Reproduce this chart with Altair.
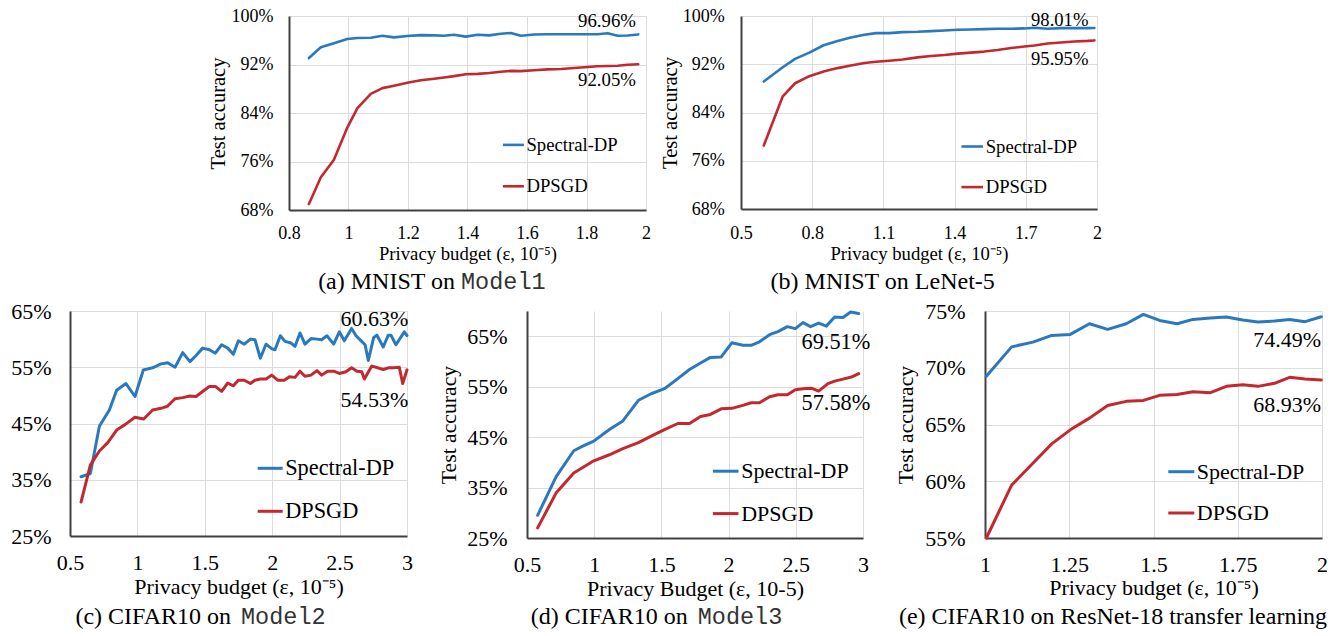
import altair as alt
import pandas as pd

SERIES = ["Spectral-DP", "DPSGD"]
BLUE = "#2A79BF"
RED = "#C3282F"
SERIF = "Liberation Serif"
MONO = "Liberation Mono"

# ---------------- (a) MNIST on Model1 ----------------
a_x = [0.867, 0.907, 0.951, 0.996, 1.030, 1.075, 1.114, 1.153, 1.198, 1.243, 1.288, 1.321,
       1.355, 1.394, 1.434, 1.473, 1.512, 1.546, 1.579, 1.624, 1.669, 1.714, 1.759, 1.804,
       1.837, 1.871, 1.905, 1.938, 1.974]
a_spectral = [93.06, 94.85, 95.50, 96.20, 96.37, 96.40, 96.75, 96.47, 96.70, 96.85, 96.80, 96.75,
              96.90, 96.60, 96.90, 96.80, 97.07, 97.20, 96.75, 96.96, 97.00, 97.00, 97.00, 97.00,
              97.00, 97.15, 96.75, 96.78, 96.96]
a_dpsgd = [68.98, 73.40, 76.30, 81.60, 84.80, 87.15, 88.10, 88.50, 89.00, 89.40, 89.65, 89.86,
           90.08, 90.40, 90.45, 90.60, 90.80, 90.95, 90.90, 91.05, 91.20, 91.27, 91.43, 91.60,
           91.70, 91.76, 91.80, 91.97, 92.05]

# ---------------- (b) MNIST on LeNet-5 ----------------
b_x = [0.596, 0.676, 0.728, 0.788, 0.848, 0.907, 0.963, 1.020, 1.069, 1.125, 1.181, 1.244,
       1.301, 1.357, 1.413, 1.469, 1.525, 1.581, 1.638, 1.694, 1.736, 1.792, 1.848, 1.904,
       1.961, 1.989]
b_spectral = [89.13, 91.50, 92.90, 93.93, 95.15, 95.87, 96.43, 96.88, 97.16, 97.16, 97.32, 97.38,
              97.49, 97.60, 97.71, 97.77, 97.83, 97.88, 97.88, 97.94, 98.05, 97.88, 97.99, 97.99,
              97.99, 98.01]
b_dpsgd = [78.54, 86.68, 88.85, 90.02, 90.80, 91.36, 91.80, 92.20, 92.42, 92.59, 92.80, 93.14,
           93.37, 93.53, 93.76, 93.92, 94.10, 94.37, 94.70, 94.93, 95.10, 95.43, 95.60, 95.76,
           95.87, 95.95]

# ---------------- (c) CIFAR10 on Model2 ----------------
c_x_spectral = [0.582, 0.651, 0.718, 0.792, 0.846, 0.915, 0.982, 1.044, 1.113, 1.175, 1.225, 1.279,
                1.336, 1.390, 1.435, 1.484, 1.534, 1.578, 1.625, 1.670, 1.712, 1.749, 1.793, 1.838,
                1.872, 1.912, 1.954, 1.996, 2.021, 2.060, 2.095, 2.140, 2.169, 2.206, 2.243, 2.288,
                2.332, 2.367, 2.406, 2.456, 2.498, 2.535, 2.589, 2.622, 2.664, 2.689, 2.713, 2.753,
                2.777, 2.824, 2.861, 2.881, 2.918, 2.980, 3.000]
c_spectral = [35.54, 36.10, 44.50, 47.40, 50.90, 52.10, 49.80, 54.50, 54.90, 55.60, 55.80, 55.00,
              57.60, 56.00, 57.10, 58.40, 58.10, 57.50, 59.00, 58.40, 57.30, 59.70, 59.10, 60.00,
              59.90, 56.60, 59.10, 58.30, 58.10, 60.60, 59.60, 59.30, 58.70, 61.10, 59.10, 60.10,
              60.00, 59.90, 60.60, 59.10, 61.30, 59.70, 61.90, 60.60, 59.60, 59.00, 56.20, 60.30,
              60.70, 58.60, 60.70, 60.70, 59.00, 61.30, 60.63]
c_x_dpsgd = [0.582, 0.651, 0.718, 0.780, 0.849, 0.908, 0.982, 1.047, 1.113, 1.175, 1.225, 1.279,
             1.336, 1.390, 1.435, 1.484, 1.534, 1.578, 1.625, 1.670, 1.712, 1.749, 1.793, 1.838,
             1.872, 1.912, 1.954, 1.996, 2.041, 2.090, 2.128, 2.169, 2.206, 2.243, 2.288, 2.332,
             2.367, 2.411, 2.456, 2.498, 2.547, 2.589, 2.629, 2.664, 2.684, 2.738, 2.783, 2.824,
             2.861, 2.901, 2.943, 2.968, 3.000]
c_dpsgd = [31.03, 37.60, 40.10, 41.60, 43.90, 44.80, 46.10, 45.80, 47.40, 47.70, 48.10, 49.40,
           49.60, 49.90, 49.80, 50.70, 51.60, 51.60, 50.70, 52.20, 51.70, 52.70, 52.70, 52.10,
           52.70, 52.90, 52.90, 53.60, 52.70, 52.70, 53.30, 53.20, 54.30, 53.40, 53.60, 54.40,
           53.60, 54.30, 54.30, 53.90, 54.20, 54.90, 54.30, 54.20, 52.90, 55.20, 54.90, 54.60,
           54.90, 54.90, 55.00, 52.10, 54.53]

# ---------------- (d) CIFAR10 on Model3 ----------------
d_x_spectral = [0.579, 0.716, 0.848, 0.915, 0.997, 1.113, 1.213, 1.329, 1.424, 1.523, 1.622, 1.709,
                1.791, 1.865, 1.945, 2.024, 2.106, 2.168, 2.230, 2.305, 2.367, 2.437, 2.496, 2.553,
                2.610, 2.670, 2.727, 2.789, 2.851, 2.908, 2.968]
d_spectral = [29.5, 37.1, 42.3, 43.2, 44.2, 46.5, 48.2, 52.3, 53.6, 54.6, 56.6, 58.4,
              59.7, 60.8, 60.9, 63.7, 63.2, 63.2, 63.9, 65.3, 65.9, 66.9, 66.5, 67.7,
              66.9, 67.6, 67.0, 68.8, 68.7, 69.8, 69.51]
d_x_dpsgd = [0.579, 0.716, 0.848, 0.997, 1.113, 1.213, 1.329, 1.424, 1.523, 1.622, 1.709, 1.791,
             1.865, 1.945, 2.024, 2.106, 2.168, 2.230, 2.305, 2.367, 2.437, 2.496, 2.553, 2.615,
             2.670, 2.739, 2.789, 2.851, 2.913, 2.968]
d_dpsgd = [27.0, 33.9, 37.9, 40.3, 41.5, 42.7, 43.9, 45.2, 46.5, 47.7, 47.7, 49.1,
           49.5, 50.6, 50.7, 51.3, 51.8, 51.8, 53.0, 53.4, 53.4, 54.4, 54.6, 54.7,
           54.1, 55.6, 56.1, 56.5, 56.9, 57.58]

# ---------------- (e) CIFAR10 on ResNet-18 transfer learning ----------------
e_x = [1.004, 1.079, 1.142, 1.198, 1.253, 1.310, 1.364, 1.419, 1.470, 1.518, 1.570, 1.617,
       1.669, 1.716, 1.765, 1.810, 1.859, 1.904, 1.950, 1.998]
e_spectral = [69.25, 71.84, 72.26, 72.85, 72.94, 73.88, 73.38, 73.88, 74.70, 74.17, 73.88, 74.26,
              74.38, 74.47, 74.20, 74.03, 74.12, 74.26, 74.06, 74.49]
e_dpsgd = [55.00, 59.66, 61.58, 63.29, 64.53, 65.56, 66.68, 67.04, 67.12, 67.57, 67.65, 67.89,
           67.80, 68.36, 68.51, 68.36, 68.63, 69.16, 69.01, 68.93]

# axis ticks
a_xticks = [0.8, 1.0, 1.2, 1.4, 1.6, 1.8, 2.0]
b_xticks = [0.5, 0.8, 1.1, 1.4, 1.7, 2.0]
cd_xticks = [0.5, 1.0, 1.5, 2.0, 2.5, 3.0]
e_xticks = [1.0, 1.25, 1.5, 1.75, 2.0]
mnist_yticks = [68, 76, 84, 92, 100]
c_yticks = [25, 35, 45, 55, 65]
d_yticks = [25, 35, 45, 55, 65]
e_yticks = [55, 60, 65, 70, 75]

X_TITLE = "Privacy budget (ε, 10⁻⁵)"
X_TITLE_D = "Privacy Budget (ε, 10-5)"
Y_TITLE = "Test accuracy"


def long_df(xs_s, ys_s, xs_d, ys_d):
    return pd.concat([
        pd.DataFrame({"eps": xs_s, "acc": ys_s, "series": SERIES[0]}),
        pd.DataFrame({"eps": xs_d, "acc": ys_d, "series": SERIES[1]}),
    ], ignore_index=True)


def end_label(xs, ys, dx, dy, fs):
    d = pd.DataFrame({"eps": [xs[-1]], "acc": [ys[-1]], "label": [f"{ys[-1]:.2f}%"]})
    return alt.Chart(d).mark_text(
        align="right", baseline="middle", dx=dx, dy=dy, font=SERIF, fontSize=fs, color="black"
    ).encode(x="eps:Q", y="acc:Q", text="label:N")


def caption(text, font, size, align, x, y, color="black"):
    return alt.Chart(pd.DataFrame({"t": [text]})).mark_text(
        font=font, fontSize=size, align=align, baseline="alphabetic", color=color
    ).encode(x=alt.value(x), y=alt.value(y), text="t:N")


def panel(p):
    df = long_df(p["xs"], p["ys"], p["xd"], p["yd"])
    x = alt.X("eps:Q", scale=alt.Scale(domain=p["xdom"], nice=False, zero=False),
              axis=alt.Axis(values=p["xticks"], format=".2~f", title=p["xtitle"],
                            labelFont=SERIF, labelFontSize=p["fs"], labelColor="black",
                            labelPadding=p["xlp"], labelOverlap=False, labelFlush=False,
                            ticks=False, tickSize=0,
                            titleFont=SERIF, titleFontSize=p["xtfs"], titleFontWeight="normal",
                            titleColor="black", titlePadding=p["xtp"],
                            domainColor="#404040", domainWidth=2,
                            gridColor="#dcdcdc", gridWidth=1))
    y = alt.Y("acc:Q", scale=alt.Scale(domain=p["ydom"], nice=False, zero=False),
              axis=alt.Axis(values=p["yticks"], labelExpr="datum.value + '%'", title=p["ytitle"],
                            labelFont=SERIF, labelFontSize=p["fs"], labelColor="black",
                            labelPadding=p["ylp"], labelOverlap=False, ticks=False, tickSize=0,
                            titleFont=SERIF, titleFontSize=p["ytfs"], titleFontWeight="normal",
                            titleColor="black", titlePadding=p["ytp"],
                            domainColor="#404040", domainWidth=2,
                            gridColor="#dcdcdc", gridWidth=1))
    color = alt.Color(
        "series:N", sort=SERIES, scale=alt.Scale(domain=SERIES, range=[BLUE, RED]),
        legend=alt.Legend(orient="none", legendX=p["lx"], legendY=p["ly"], title=None,
                          symbolType="stroke", symbolSize=p["sym"] ** 2,
                          symbolStrokeWidth=p["lw"], labelFont=SERIF, labelFontSize=p["lfs"],
                          labelColor="black", labelOffset=1, rowPadding=p["rp"], padding=0,
                          labelLimit=400))
    lines = alt.Chart(df).mark_line(strokeWidth=p["lw"], strokeJoin="round", strokeCap="round").encode(
        x=x, y=y, color=color)
    layers = [lines,
              end_label(p["xs"], p["ys"], p["dx"], p["dys"], p["efs"]),
              end_label(p["xd"], p["yd"], p["dx"], p["dyd"], p["efs"])]
    for cap in p["caps"]:
        layers.append(caption(*cap))
    return alt.layer(*layers).properties(width=p["w"], height=p["h"])


def spacer(w):
    return alt.Chart(pd.DataFrame({"v": [0]})).mark_point(opacity=0).encode(
        x=alt.value(0), y=alt.value(0)).properties(width=w, height=1)


TOP_CAP_Y = 272.5
BOT_CAP_Y = 313.0

pa = panel(dict(xs=a_x, ys=a_spectral, xd=a_x, yd=a_dpsgd, w=357, h=194,
                xdom=[0.8, 2.0], xticks=a_xticks, ydom=[68, 100], yticks=mnist_yticks,
                xtitle=X_TITLE, ytitle=Y_TITLE, fs=18, xtfs=18.7, ytfs=20.5, lfs=18.7, efs=18.8,
                ylp=16, ytp=3, xlp=14, xtp=2, lw=2.6,
                lx=212.4, ly=116.9, sym=21, rp=19.4, dx=-2.3, dys=-13.1, dyd=16.1,
                caps=[("(a) MNIST on", SERIF, 24, "right", 166, TOP_CAP_Y),
                      ("Model1", MONO, 23.5, "left", 172, TOP_CAP_Y, "#333333")]))
pb = panel(dict(xs=b_x, ys=b_spectral, xd=b_x, yd=b_dpsgd, w=356, h=193,
                xdom=[0.5, 2.0], xticks=b_xticks, ydom=[68, 100], yticks=mnist_yticks,
                xtitle=X_TITLE, ytitle=Y_TITLE, fs=18, xtfs=18.7, ytfs=20.5, lfs=18.7, efs=18.6,
                ylp=16.7, ytp=2, xlp=15, xtp=2, lw=2.6,
                lx=218.7, ly=118, sym=21.5, rp=17.6, dx=-6, dys=-7.7, dyd=18.3,
                caps=[("(b) MNIST on LeNet-5", SERIF, 24, "center", 141.7, TOP_CAP_Y)]))
pc = panel(dict(xs=c_x_spectral, ys=c_spectral, xd=c_x_dpsgd, yd=c_dpsgd, w=337, h=225,
                xdom=[0.5, 3.0], xticks=cd_xticks, ydom=[25, 65], yticks=c_yticks,
                xtitle=X_TITLE, ytitle="", fs=22, xtfs=22, ytfs=21.7, lfs=22.3, efs=22,
                ylp=19, ytp=4, xlp=16.5, xtp=2.5, lw=3,
                lx=186.2, ly=143.3, sym=25, rp=17, dx=1.3, dys=-16.3, dyd=30.1,
                caps=[("(c) CIFAR10 on", SERIF, 24, "right", 161, BOT_CAP_Y),
                      ("Model2", MONO, 23.5, "left", 171, BOT_CAP_Y, "#333333")]))
pd_ = panel(dict(xs=d_x_spectral, ys=d_spectral, xd=d_x_dpsgd, yd=d_dpsgd, w=336, h=227,
                 xdom=[0.5, 3.0], xticks=cd_xticks, ydom=[25, 70], yticks=d_yticks,
                 xtitle=X_TITLE_D, ytitle=Y_TITLE, fs=22, xtfs=22, ytfs=21.7, lfs=22, efs=22.3,
                 ylp=20, ytp=6, xlp=16.3, xtp=3.5, lw=3,
                 lx=184.2, ly=145.7, sym=25.6, rp=16.4, dx=11.6, dys=28.2, dyd=29.7,
                 caps=[("(d) CIFAR10 on", SERIF, 24, "right", 160.7, BOT_CAP_Y),
                       ("Model3", MONO, 23.5, "left", 170.7, BOT_CAP_Y, "#333333")]))
pe = panel(dict(xs=e_x, ys=e_spectral, xd=e_x, yd=e_dpsgd, w=337, h=227,
                xdom=[1.0, 2.0], xticks=e_xticks, ydom=[55, 75], yticks=e_yticks,
                xtitle=X_TITLE, ytitle=Y_TITLE, fs=22, xtfs=22, ytfs=21.7, lfs=22, efs=22,
                ylp=20, ytp=7, xlp=16.3, xtp=2.5, lw=3,
                lx=181.8, ly=146.2, sym=26, rp=15.3, dx=-0.3, dys=23.2, dyd=25.1,
                caps=[("(e) CIFAR10 on ResNet-18 transfer learning", SERIF, 24, "center", 128, BOT_CAP_Y)]))

row1 = alt.hconcat(spacer(219), pa, spacer(95), pb, spacing=0, bounds="flush").resolve_legend(
    color="independent")
row2 = alt.hconcat(pc, spacer(120), pd_, spacer(122), pe, spacing=0, bounds="flush").resolve_legend(
    color="independent")

chart = alt.vconcat(row1, row2, spacing=6).resolve_scale(
    x="independent", y="independent"
).resolve_legend(color="independent").configure_view(strokeWidth=0).properties(
    padding={"top": -1, "left": 2, "right": 0, "bottom": 0}
)

chart.save("out.html", embed_options={"renderer": "svg", "actions": False})
